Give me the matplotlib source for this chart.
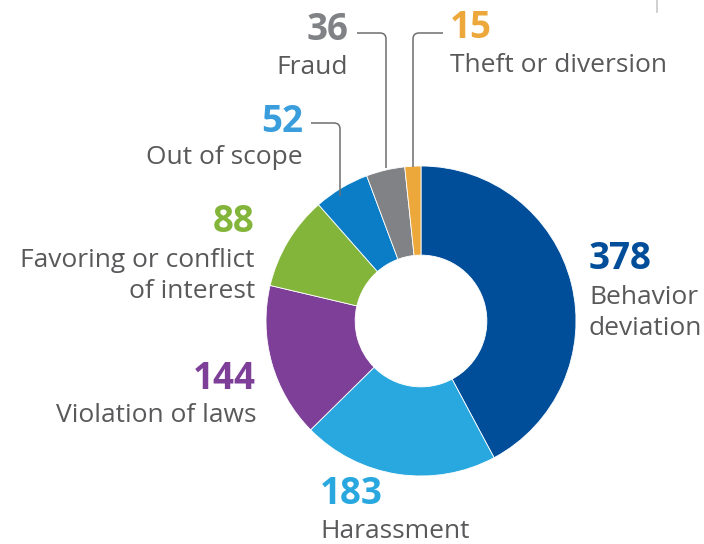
import matplotlib
matplotlib.use("Agg")
import matplotlib.pyplot as plt
from matplotlib.path import Path
from matplotlib.patches import PathPatch

categories = ["Behavior\ndeviation", "Harassment", "Violation of laws",
              "Favoring or conflict\nof interest", "Out of scope", "Fraud",
              "Theft or diversion"]
values = [378, 183, 144, 88, 52, 36, 15]
colors = ["#004E9A", "#29A8E0", "#7D3F98", "#84B53B", "#0A7DC6", "#808285", "#EDA83C"]
num_colors = ["#004E9A", "#29A8E0", "#7D3F98", "#84B53B", "#3A9EDC", "#808285", "#EDA83C"]

W, H = 704, 544
fig = plt.figure(figsize=(W / 100, H / 100), dpi=100)
ax = fig.add_axes([0, 0, 1, 1])
ax.set_xlim(0, W)
ax.set_ylim(0, H)
ax.set_aspect("equal")
ax.axis("off")

def Y(y):
    return H - y

cx, cy, R = 421, 321, 155
ax.pie(values, colors=colors, startangle=90, counterclock=False,
       center=(cx, Y(cy)), radius=R,
       wedgeprops=dict(width=R * 0.575, linewidth=0.6, edgecolor="white"))
ax.set_xlim(0, W)
ax.set_ylim(0, H)

txt = "#59595B"
font = "Open Sans"
nsize = 26.5
lsize = 19

# (label x, number y, label y, ha)
layout = [
    (589, 259, 313, "left"),
    (320, 494, 531, "left"),
    (256, 379, 415, "right"),
    (255, 222, 276, "right"),
    (303, 122, 158, "right"),
    (348, 30, 67, "right"),
    (450, 28, 65, "left"),
]
for (x, ny, ly, ha), v, lab, nc in zip(layout, values, categories, num_colors):
    ax.text(x, Y(ny), str(v), ha=ha, va="center", fontsize=nsize,
            fontweight="bold", color=nc, family=font)
    ax.text(x, Y(ly), lab, ha=ha, va="center", fontsize=lsize, color=txt,
            family=font, linespacing=1.3)

def leader(x0, y0, xc, y1, r=6):
    s = 1 if xc > x0 else -1
    verts = [(x0, Y(y0)), (xc - s * r, Y(y0)), (xc, Y(y0)), (xc, Y(y0 + r)), (xc, Y(y1))]
    codes = [Path.MOVETO, Path.LINETO, Path.CURVE3, Path.CURVE3, Path.LINETO]
    ax.add_patch(PathPatch(Path(verts, codes), fill=False, edgecolor="#6D6E71", lw=1.1))

leader(357, 33, 386, 168)
leader(443, 33, 413, 167)
leader(311, 123, 340, 196)

ax.plot([657, 657], [Y(0), Y(12)], color="#C8C8C8", lw=1.2)

fig.savefig("out.png", dpi=100)
